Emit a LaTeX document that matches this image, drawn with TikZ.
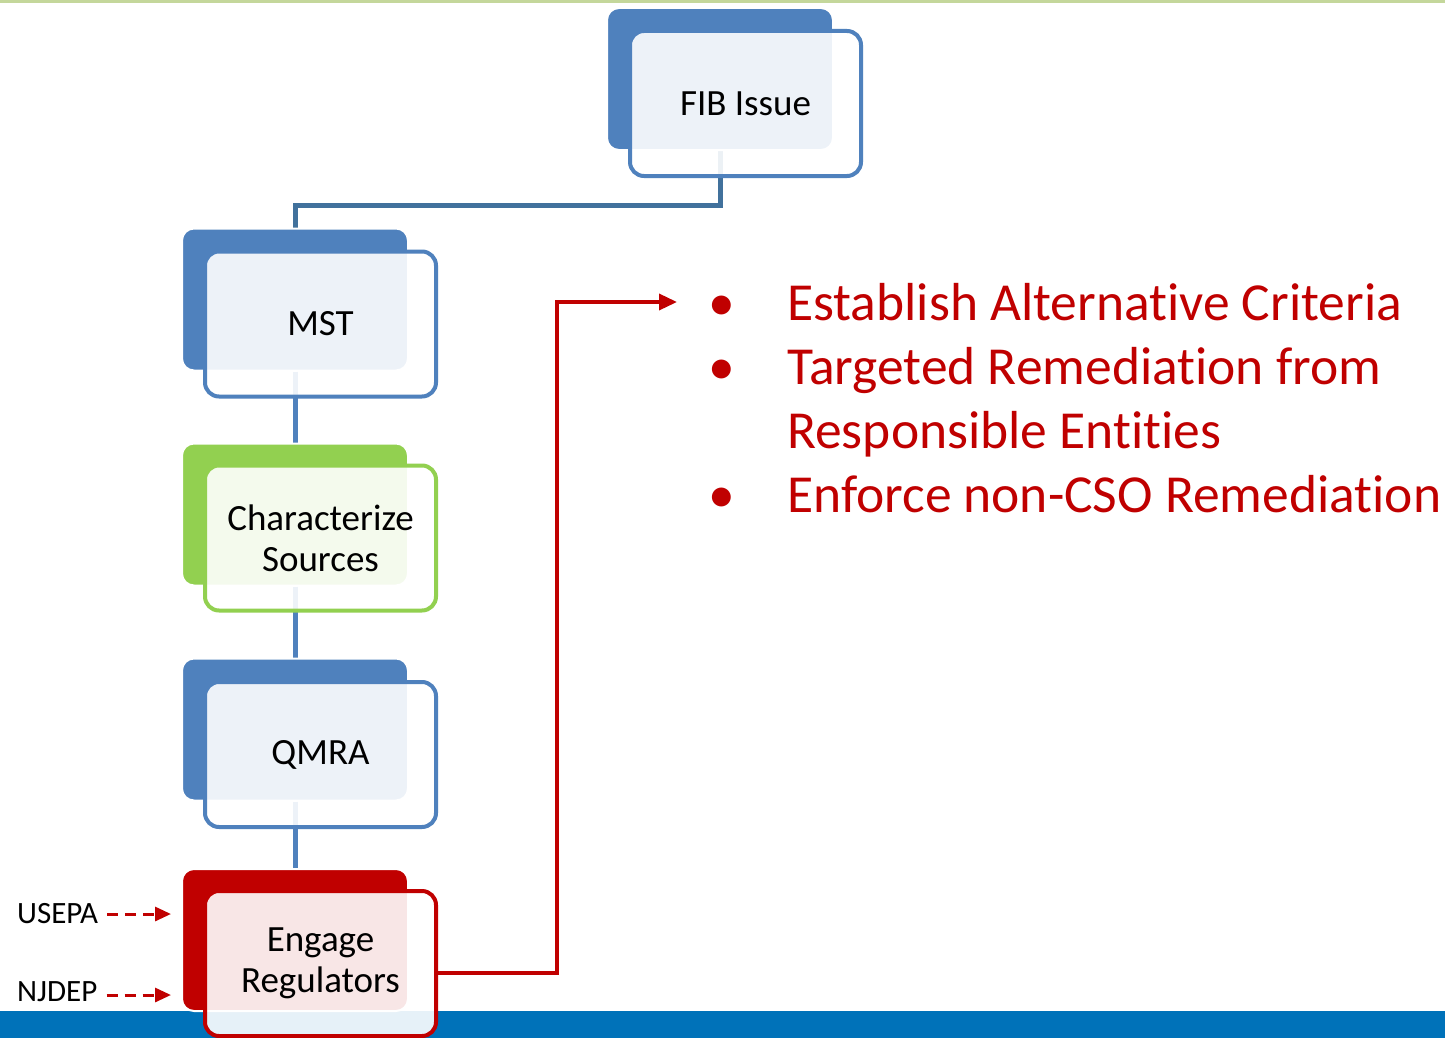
\documentclass[tikz,border=0pt]{standalone}
\usepackage{fontspec}
\setmainfont{Carlito}[Ligatures=NoCommon]
\usetikzlibrary{arrows.meta,calc}
\definecolor{accblue}{HTML}{4F81BD}
\definecolor{connblue}{HTML}{41719C}
\definecolor{accgreen}{HTML}{92D050}
\definecolor{accred}{HTML}{C00000}
\definecolor{barblue}{HTML}{0072B9}
\definecolor{topgreen}{HTML}{C4D79B}
\pgfdeclarelayer{bg}
\pgfdeclarelayer{canvas}
\pgfsetlayers{canvas,bg,main}
\begin{document}
\begin{tikzpicture}[x=1pt,y=-1pt,
  backbox/.style={rectangle, rounded corners=12pt, fill=#1, draw=white, line width=2pt,
    minimum width=226pt, minimum height=142pt, inner sep=0pt},
  frontbox/.style={rectangle, rounded corners=14pt, draw=#1, line width=4pt, fill=white,
    fill opacity=0.9, text opacity=1, minimum width=231pt, minimum height=145pt,
    inner sep=0pt, align=center, font=\fontsize{37}{41}\selectfont},
  vconn/.style={draw=accblue, line width=5pt},
  topconn/.style={draw=connblue, line width=5pt},
  redconn/.style={draw=accred, line width=3.5pt, -{Triangle[length=18pt,width=16pt]}},
  dasharrow/.style={draw=accred, line width=3pt, dash pattern=on 11pt off 7pt,
    -{Triangle[length=16pt,width=14pt]}},
  reglabel/.style={anchor=west, inner sep=0pt, font=\fontsize{31}{33}\selectfont},
  bullettext/.style={anchor=base west, inner sep=0pt, text=accred,
    font=\fontsize{53.5}{64}\selectfont},
  bulletmark/.style={anchor=base, inner sep=0pt, text=accred, font=\fontsize{53.5}{64}\selectfont}
]
\useasboundingbox (0,0) rectangle (1445,1038);
\begin{pgfonlayer}{canvas}
  \fill[white] (0,0) rectangle (1445,1038);
  \fill[topgreen] (0,0) rectangle (1445,3.5);
  \fill[barblue] (0,1011) rectangle (1445,1038);
\end{pgfonlayer}

% boxes
\node[backbox=accblue] (fibB) at (720,79) {};
\node[frontbox=accblue] (fibF) at (745.5,103.5) {FIB Issue};

\node[backbox=accblue] (mstB) at (295,299.5) {};
\node[frontbox=accblue] (mstF) at (320.5,324) {MST};

\node[backbox=accgreen] (chaB) at (295,514.5) {};
\node[frontbox=accgreen] (chaF) at (320.5,538) {Characterize\\Sources};

\node[backbox=accblue] (qmrB) at (295,729.5) {};
\node[frontbox=accblue] (qmrF) at (320.5,754.5) {QMRA};

\node[backbox=accred] (engB) at (295,940) {};
\node[frontbox=accred] (engF) at (320.5,963.5) {Engage\\Regulators};

% connectors behind the boxes
\begin{pgfonlayer}{bg}
  \coordinate (fibmid) at (500,205);
  \draw[topconn] (fibB.south) |- (fibmid) -| (mstB.north);
  \draw[vconn] (mstB.south) -- (chaB.north);
  \draw[vconn] (chaB.south) -- (qmrB.north);
  \draw[vconn] (qmrB.south) -- (engB.north);
  \coordinate (rturn) at (557,302);
  \coordinate (bulletin) at (677,302);
  \draw[redconn] ([yshift=-9.5pt]engF.east) -| (rturn) -- (bulletin);
\end{pgfonlayer}

% regulators
\node[reglabel] (usepa) at (17,914) {USEPA};
\node[reglabel] (njdep) at (17,992) {NJDEP};
\draw[dasharrow] ([xshift=9pt]usepa.east) -- ([xshift=-10pt]engB.west |- usepa.east);
\draw[dasharrow] ([xshift=9pt,yshift=-3pt]njdep.east) -- ([xshift=-10pt,yshift=-3pt]engB.west |- njdep.east);

% bullet list
\node[bulletmark] (b1) at (722,320) {•};
\node[bullettext] (t1) at (787,320) {Establish Alternative Criteria};
\node[bulletmark] (b2) at (722,384) {•};
\node[bullettext] (t2) at (787,384) {Targeted Remediation from};
\node[bullettext] (t2b) at (787,448) {Responsible Entities};
\node[bulletmark] (b3) at (722,512) {•};
\node[bullettext] (t3) at (787,512) {Enforce non-CSO Remediation};
\end{tikzpicture}
\end{document}
